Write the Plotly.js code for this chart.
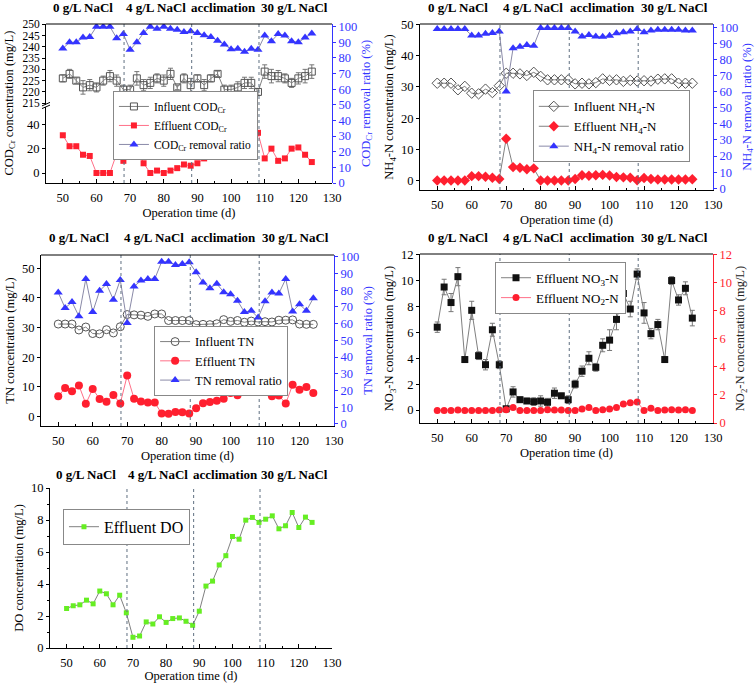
<!DOCTYPE html>
<html><head><meta charset="utf-8">
<script src="https://cdn.plot.ly/plotly-3.0.1.min.js"></script>
<style>
body{margin:0;background:#fff;width:756px;height:683px;position:relative;overflow:hidden}
.p{position:absolute}
</style></head>
<body>
<div id="p1" class="p" style="left:0px;top:0px;width:380px;height:228px"></div>
<div id="p2" class="p" style="left:380px;top:0px;width:376px;height:228px"></div>
<div id="p3" class="p" style="left:0px;top:230px;width:380px;height:235px"></div>
<div id="p4" class="p" style="left:380px;top:230px;width:376px;height:235px"></div>
<div id="p5" class="p" style="left:0px;top:455px;width:380px;height:228px"></div>
<script>
// ---------- data ----------
const days = [50,52,54,56,58,60,62,64,66,68,70,72,74,76,78,80,82,84,86,88,90,92,94,96,98,100,102,104,106,108,110,112,114,116,118,120,122,124];

const codInfluent = [226,228,225,222,223,222,225,227,225,221,221,226,223,224,226,225,228,222,226,223,226,223,226,228,221,221,222,224,224,220,229,227,227,226,224,226,227,229];
const codInfluentErr = [1.5,2,1.2,3,2.5,2,2,2.5,2.5,2,2,3,2.5,2.5,2,2.5,2.5,1,2,3,1.5,2.5,1.5,1.2,2,2,2.5,2.5,2.5,1.5,3,3,2.5,2,2,2.5,3,3];
const codEffluent = [31,22,22,15,14,0,0,0,16,10,33,22,8,0,2,0,2,4,7,6,8,12,14,20,25,32,31,35,31,33,12,20,10,12,20,21,15,9];
const codRemoval = [86,90,90,93,93.4,100,100,100,92.6,95.3,85.2,90,96,100,98.7,100,98.7,98,96.6,97,96,94.5,93.4,91,88.6,85.6,85.8,84,85.8,85.2,94.3,90.7,95.3,94.3,90.7,90,93,95.6];

const nh4Influent = [31.2,31.2,31.2,29.1,30.2,28.0,27.8,29.3,28.2,30.4,34.4,34.4,34.2,33.7,34.7,33.4,32.3,32.3,32.3,32.3,31.0,31.2,31.0,31.4,32.6,32.1,32.3,31.8,32.1,31.9,32.0,31.9,32.5,32.6,32.6,31.2,31.2,31.2];
const nh4Effluent = [0,0,0,0,0,1.4,1.4,1.2,0.9,0.5,13.4,4.3,4.1,3.6,3.9,0,0,0,0,0,0.5,1.7,1.5,1.7,1.8,1.6,1.1,1.0,0.9,0.1,0.8,0.5,0.3,0.3,0.3,0.3,0.3,0.4];
const nh4Removal = [99,99,99,99,99,95,95,96,96.5,97.5,60.2,87,88,89,88.6,99.6,99.6,99.6,99.6,99.6,97.5,94.4,95.2,94.4,94.2,94.8,96.3,96.9,97.5,99,97,98,98.5,98.5,98.5,98.5,98,98];

const tnInfluent = [31.2,31.2,31.2,29.2,30.2,28.0,27.9,29.3,28.2,30.3,34.4,34.3,34.2,33.8,34.6,34.6,32.4,32.4,32.4,32.4,31.0,31.1,31.0,31.3,32.7,32.1,32.4,31.8,32.2,31.9,32.0,31.9,32.5,32.5,32.6,31.2,31.1,31.1];
const tnEffluent = [6.8,9.6,8.5,10.5,4.3,9.3,5.9,5.0,7.3,4.4,13.8,6.0,5.1,4.7,4.7,1.0,0.9,1.5,1.4,1.0,2.8,4.5,4.9,5.3,6.0,7.9,7.2,10.5,10.5,11.5,8.5,6.8,7.1,4.4,10.7,9.0,10.0,7.9];
const tnRemoval = [78.6,69.3,72.9,64.4,86.7,66.9,79.6,83.6,74.3,86.1,60.4,82.2,85.7,86.7,86.7,97,97,95,95.6,96.6,90.7,84.6,81.2,83.8,78.8,77.6,73.7,66.9,67.7,63.6,73.3,78.6,78,86.7,67.3,71.5,67.7,75.2];

const no3Effluent = [6.4,9.5,8.3,10.3,3.9,7.7,4.2,3.5,6.2,3.5,0.1,1.4,0.8,0.7,0.65,0.7,0.6,1.3,1.1,0.8,2.0,3.0,4.0,3.3,5.0,5.4,7.0,9.0,7.8,10.5,7.5,5.9,6.6,3.9,10.0,8.5,9.4,7.1];
const no3Err = [0.4,0.6,0.7,0.7,0.2,0.7,0.3,0.4,0.5,0.3,0.1,0.4,0.2,0.2,0.3,0.4,0.3,0.4,0.2,0.3,0.3,0.4,0.5,0.3,0.5,0.8,0.8,0.6,0.6,0.4,0.8,0.4,0.4,0.2,0.3,0.4,0.5,0.6];
const no2Effluent = [0.9,0.9,0.9,0.93,0.9,0.9,0.9,0.9,0.9,0.93,0.95,1.1,0.9,0.9,0.9,0.9,0.95,0.93,0.93,0.9,0.9,1.0,1.1,0.9,0.95,1.0,1.1,1.35,1.45,1.5,0.9,1.05,0.9,0.93,0.95,0.93,0.95,0.9];

const doEffluent = [2.47,2.64,2.7,2.99,2.76,3.56,3.39,2.7,3.3,2.2,0.67,0.75,1.63,1.5,1.95,1.6,1.84,1.88,1.67,1.42,2.3,3.87,4.18,5.19,5.77,6.97,6.8,7.99,8.16,7.85,8.05,8.26,7.45,7.64,8.47,7.53,8.18,7.85];

const phaseX = [68.2, 88.3, 108.3];
const phaseLabels = ['0 g/L NaCl', '4 g/L NaCl', 'acclimation', '30 g/L NaCl'];
const phaseLabelX = [56, 77.7, 97.8, 118.8];

// ---------- styles ----------
const FONT = 'Liberation Serif, Times New Roman, serif';
const BLUE = '#3434ff';
const RED = '#ff1f2f';
const PINK = '#ff7088';
const GRAY = '#808080';
const RLINE = '#8a8aa8';
const cfg = {staticPlot: true, displayModeBar: false};

function phaseShapes(){
  return phaseX.map(v => ({type:'line', xref:'x', yref:'paper', x0:v, x1:v, y0:0, y1:1,
    line:{color:'#5f6f80', width:1, dash:'dot'}}));
}
function topLine(){
  return {type:'line', xref:'paper', yref:'paper', x0:0, x1:1, y0:1, y1:1, line:{color:'#000', width:1}};
}
function phaseAnn(shift){
  return phaseLabels.map((t,i) => ({text:'<b>'+t+'</b>', x:phaseLabelX[i], xref:'x', y:1, yref:'paper',
    yanchor:'middle', yshift:shift, showarrow:false, font:{family:FONT, size:13, color:'#000'}}));
}
function xAxis(){
  return {range:[45,130], tick0:50, dtick:10, ticks:'inside', ticklen:4, tickcolor:'#000',
    showline:true, linecolor:'#000', linewidth:1, showgrid:false, zeroline:false,
    ticklabelstandoff:3,
    minor:{dtick:5, tick0:45, ticks:'inside', ticklen:2, tickcolor:'#000', showgrid:false},
    tickfont:{family:FONT, size:12.5, color:'#000'},
    title:{text:'Operation time (d)', font:{family:FONT, size:12.5, color:'#000'}, standoff:4}};
}
function yLeft(range, dtick, title){
  return {range:range, dtick:dtick, tick0:0, ticks:'outside', ticklen:3, tickcolor:'#000',
    showline:true, linecolor:'#000', linewidth:1, showgrid:false, zeroline:false,
    tickfont:{family:FONT, size:12.5, color:'#000'},
    title:title ? {text:title, font:{family:FONT, size:12.5, color:'#000'}, standoff:4} : undefined};
}
function yRight(range, dtick, title, color, titleColor){
  return {range:range, dtick:dtick, tick0:0, ticks:'outside', ticklen:3, tickcolor:color,
    showline:true, linecolor:color, linewidth:1, showgrid:false, zeroline:false, side:'right',
    tickfont:{family:FONT, size:12.5, color:color},
    title:{text:title, font:{family:FONT, size:12.5, color:titleColor}, standoff:4}};
}
function legendAt(x, y, size){
  return {x:x, y:y, xanchor:'left', yanchor:'top', bgcolor:'#fff', bordercolor:'#888', borderwidth:1,
    font:{family:FONT, size:size, color:'#000'}, tracegroupgap:0};
}
function baseLayout(w, h, m){
  return {width:w, height:h, autosize:false, margin:m, paper_bgcolor:'rgba(0,0,0,0)',
    plot_bgcolor:'rgba(0,0,0,0)', showlegend:true, hovermode:false};
}

// ---------- panel 1: COD ----------
(function(){
  const traces = [
    {x:days, y:codInfluent, yaxis:'y3', name:'Influent COD<sub>Cr</sub>', mode:'lines+markers',
      line:{color:GRAY, width:1}, marker:{symbol:'square-open', size:7, color:'#555', line:{width:1}},
      error_y:{type:'data', array:codInfluentErr, visible:true, color:'#777', thickness:1, width:2.5}},
    {x:days, y:codEffluent, yaxis:'y', name:'Effluent COD<sub>Cr</sub>', mode:'lines+markers',
      line:{color:PINK, width:1}, marker:{symbol:'square', size:6, color:RED}},
    {x:days, y:codRemoval, yaxis:'y2', name:'COD<sub>Cr</sub> removal ratio', mode:'lines+markers',
      line:{color:RLINE, width:1}, marker:{symbol:'triangle-up', size:8, color:BLUE}}
  ];
  const L = baseLayout(380, 228, {l:46, r:48, t:24, b:45});
  L.xaxis = xAxis();
  L.yaxis = Object.assign(yLeft([-8.2, 54.2], 20, null), {domain:[0, 0.478], anchor:'x'});
  L.yaxis3 = Object.assign(yLeft([214.2, 250.1], 5, null), {domain:[0.4906, 1], anchor:'x'});
  L.yaxis3.tickfont = {family:FONT, size:11.5, color:'#000'};
  L.yaxis2 = Object.assign(yRight([0, 101.7], 10, 'COD<sub>Cr</sub> removal ratio (%)', BLUE, BLUE), {domain:[0,1], anchor:'x'});
  L.legend = legendAt(0.234, 0.579, 11.5);
  L.shapes = phaseShapes().concat([topLine(),
    {type:'line', xref:'paper', yref:'paper', x0:-0.014, x1:0.014, y0:0.468, y1:0.49, line:{color:'#000', width:1}},
    {type:'line', xref:'paper', yref:'paper', x0:-0.014, x1:0.014, y0:0.485, y1:0.507, line:{color:'#000', width:1}}]);
  L.annotations = phaseAnn(17).concat([{text:'COD<sub>Cr</sub> concentration (mg/L)', xref:'paper', yref:'paper',
    x:0, y:0.5, xanchor:'center', yanchor:'middle', xshift:-37, textangle:-90, showarrow:false,
    font:{family:FONT, size:12.5, color:'#000'}}]);
  Plotly.newPlot('p1', traces, L, cfg);
})();

// ---------- panel 2: NH4-N ----------
(function(){
  const traces = [
    {x:days, y:nh4Influent, name:'Influent NH<sub>4</sub>-N', mode:'lines+markers',
      line:{color:GRAY, width:1}, marker:{symbol:'diamond-open', size:8, color:'#555', line:{width:1}}},
    {x:days, y:nh4Effluent, name:'Effluent NH<sub>4</sub>-N', mode:'lines+markers',
      line:{color:GRAY, width:1}, marker:{symbol:'diamond', size:8, color:RED}},
    {x:days, y:nh4Removal, yaxis:'y2', name:'NH<sub>4</sub>-N removal ratio', mode:'lines+markers',
      line:{color:RLINE, width:1}, marker:{symbol:'triangle-up', size:8, color:BLUE}}
  ];
  const L = baseLayout(376, 228, {l:40, r:43, t:24, b:38});
  L.xaxis = xAxis();
  L.yaxis = yLeft([-3.05, 50.2], 10, 'NH<sub>4</sub>-N concentration (mg/L)');
  L.yaxis2 = Object.assign(yRight([-1.1, 102.1], 10, 'NH<sub>4</sub>-N removal ratio (%)', BLUE, BLUE), {overlaying:'y'});
  L.legend = legendAt(0.385, 0.6, 13);
  L.shapes = phaseShapes().concat([topLine()]);
  L.annotations = phaseAnn(17);
  Plotly.newPlot('p2', traces, L, cfg);
})();

// ---------- panel 3: TN ----------
(function(){
  const traces = [
    {x:days, y:tnInfluent, name:'Influent TN', mode:'lines+markers',
      line:{color:GRAY, width:1}, marker:{symbol:'circle-open', size:8, color:'#555', line:{width:1}}},
    {x:days, y:tnEffluent, name:'Effluent TN', mode:'lines+markers',
      line:{color:PINK, width:1}, marker:{symbol:'circle', size:8, color:RED}},
    {x:days, y:tnRemoval, yaxis:'y2', name:'TN removal ratio', mode:'lines+markers',
      line:{color:RLINE, width:1}, marker:{symbol:'triangle-up', size:8, color:BLUE}}
  ];
  const L = baseLayout(380, 235, {l:41, r:46, t:25, b:39});
  L.xaxis = xAxis();
  L.yaxis = yLeft([-3.2, 54.5], 10, 'TN concentration (mg/L)');
  L.yaxis2 = Object.assign(yRight([-1.2, 101], 10, 'TN removal ratio (%)', BLUE, BLUE), {overlaying:'y'});
  L.legend = legendAt(0.386, 0.585, 12.5);
  L.shapes = phaseShapes().concat([topLine()]);
  L.annotations = phaseAnn(18);
  Plotly.newPlot('p3', traces, L, cfg);
})();

// ---------- panel 4: NO3-N / NO2-N ----------
(function(){
  const traces = [
    {x:days, y:no3Effluent, name:'Effluent NO<sub>3</sub>-N', mode:'lines+markers',
      line:{color:GRAY, width:1}, marker:{symbol:'square', size:7, color:'#111'},
      error_y:{type:'data', array:no3Err, visible:true, color:'#777', thickness:1, width:2.5}},
    {x:days, y:no2Effluent, yaxis:'y2', name:'Effluent NO<sub>2</sub>-N', mode:'lines+markers',
      line:{color:PINK, width:1}, marker:{symbol:'circle', size:7, color:RED}}
  ];
  const L = baseLayout(376, 235, {l:40, r:43, t:24, b:42});
  L.xaxis = xAxis();
  L.yaxis = yLeft([-1.0, 12.05], 2, 'NO<sub>3</sub>-N concentration (mg/L)');
  L.yaxis2 = Object.assign(yRight([0, 12.05], 2, 'NO<sub>2</sub>-N concentration (mg/L)', RED, '#222'), {overlaying:'y'});
  L.legend = legendAt(0.256, 0.954, 13);
  L.shapes = phaseShapes().concat([topLine()]);
  L.annotations = phaseAnn(17);
  Plotly.newPlot('p4', traces, L, cfg);
})();

// ---------- panel 5: DO ----------
(function(){
  const traces = [
    {x:days, y:doEffluent, name:'Effluent DO', mode:'lines+markers',
      line:{color:GRAY, width:1}, marker:{symbol:'square', size:5, color:'#66ee22'}}
  ];
  const L = baseLayout(380, 228, {l:50, r:48, t:33, b:35});
  L.xaxis = xAxis();
  L.yaxis = Object.assign(yLeft([0, 10], 2, 'DO concentration (mg/L)'),
    {minor:{dtick:1, ticks:'outside', ticklen:2, tickcolor:'#000', showgrid:false}});
  L.legend = legendAt(0.046, 0.87, 16);
  L.shapes = phaseShapes();
  L.annotations = phaseAnn(14);
  Plotly.newPlot('p5', traces, L, cfg);
})();
</script>
</body></html>
